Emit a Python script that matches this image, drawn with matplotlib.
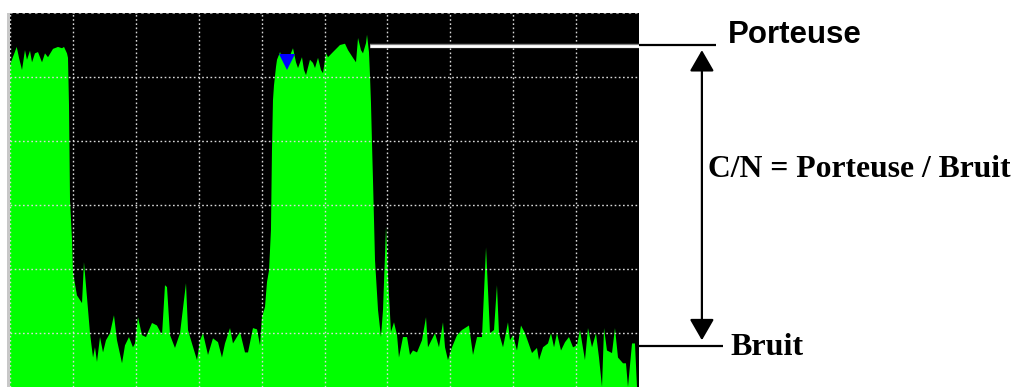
import matplotlib
matplotlib.use("Agg")
import matplotlib.pyplot as plt
from matplotlib.patches import Rectangle

# Spectrum trace: frequency (0-100 across screen) and level in dB (0 = top, 10 dB/div)
freq = [0.0, 1.07, 1.43, 1.91, 2.38, 2.70, 3.18, 3.50, 3.97, 4.45, 5.09, 5.56, 6.04, 6.84,
        7.63, 8.27, 8.59, 9.06, 9.22, 9.38, 9.54, 9.86, 10.02, 10.65, 11.45, 11.76, 12.24,
        12.72, 13.20, 13.51, 13.83, 14.31, 14.79, 15.26, 15.90, 16.53, 17.01, 17.81, 18.28,
        18.92, 19.55, 19.87, 20.35, 20.99, 21.62, 22.58, 23.37, 24.17, 24.64, 24.96, 25.44,
        26.23, 27.03, 27.98, 28.30, 28.93, 29.73, 30.21, 30.68, 31.48, 32.27, 33.07, 33.70,
        34.18, 34.98, 35.45, 36.57, 37.36, 37.84, 38.63, 39.27, 39.75, 40.06, 40.54, 40.86,
        41.18, 41.49, 41.65, 41.81, 41.97, 42.29, 42.45, 42.93, 43.24, 44.04, 44.99, 45.47,
        45.79, 46.42, 46.74, 47.06, 47.69, 48.17, 48.49, 48.97, 49.44, 49.76, 50.24, 50.56,
        51.35, 52.46, 53.26, 53.74, 54.53, 55.01, 55.33, 55.80, 56.12, 56.60, 56.76, 57.07,
        57.23, 57.39, 57.55, 57.71, 57.87, 58.03, 58.51, 58.98, 59.30, 59.78, 60.10, 60.57,
        61.05, 61.53, 61.84, 62.48, 63.12, 63.59, 64.07, 64.71, 65.50, 66.14, 66.45, 67.57,
        68.20, 68.84, 69.16, 69.63, 70.27, 71.07, 71.86, 72.97, 73.61, 74.25, 75.04, 75.68,
        76.31, 76.95, 77.42, 77.74, 78.38, 79.17, 79.49, 79.97, 80.60, 81.24, 81.88, 82.99,
        83.78, 84.10, 84.74, 85.53, 86.01, 86.49, 86.96, 87.60, 88.24, 88.87, 89.51, 90.14,
        90.62, 91.41, 91.89, 92.53, 93.16, 93.64, 94.12, 94.44, 94.91, 95.71, 96.18, 96.66,
        97.46, 97.93, 98.25, 98.89, 99.36, 99.68, 100.0]
level = [-8.1, -5.3, -7.0, -8.9, -5.8, -7.3, -5.9, -7.7, -6.3, -6.1, -7.7, -6.3, -6.9, -5.6,
         -5.3, -5.5, -5.3, -6.3, -7.0, -14.4, -29.2, -35.5, -40.6, -44.1, -45.3, -38.9, -44.4,
         -50.0, -53.8, -52.2, -54.5, -50.6, -53.0, -51.1, -50.0, -47.2, -51.1, -54.7, -51.9,
         -50.6, -52.2, -51.6, -47.5, -50.3, -50.6, -48.4, -48.8, -50.3, -42.5, -42.8, -50.3,
         -52.3, -50.0, -42.2, -49.5, -51.6, -54.2, -51.1, -50.0, -53.4, -50.8, -51.4, -53.8,
         -51.6, -49.2, -51.6, -49.8, -53.0, -53.0, -49.2, -49.4, -51.9, -47.5, -45.9, -42.0,
         -40.2, -33.9, -21.4, -13.6, -11.3, -8.4, -7.3, -6.1, -6.9, -7.8, -5.5, -7.7,
         -8.6, -6.9, -8.9, -9.7, -7.3, -7.8, -8.6, -7.0, -8.9, -9.4, -6.3, -6.9,
         -6.1, -5.0, -4.8, -5.8, -7.0, -7.7, -3.9, -5.8, -6.3, -4.7, -3.4, -6.1,
         -9.7, -14.1, -20.3, -26.1, -32.3, -38.6, -46.4, -50.6, -46.4, -33.4, -41.3, -49.8,
         -48.3, -50.3, -53.8, -50.6, -50.6, -53.4, -52.7, -53.0, -51.1, -47.5, -52.2, -50.0,
         -52.2, -48.3, -52.2, -54.2, -52.2, -50.3, -49.5, -48.8, -53.4, -50.6, -50.6, -36.6,
         -50.0, -49.5, -42.5, -50.0, -52.2, -48.3, -51.1, -50.3, -52.7, -48.8, -50.0, -53.1,
         -52.3, -54.2, -52.2, -51.6, -50.0, -52.2, -50.0, -52.7, -51.4, -50.6, -52.2, -51.9,
         -49.5, -54.2, -49.2, -52.2, -50.0, -53.8, -58.4, -49.2, -52.7, -53.1, -49.2, -53.8,
         -54.7, -54.7, -58.4, -51.6, -51.6, -58.4, -58.4]

marker_freq = 44.0
marker_level = -7.6
carrier_level = -5.1
noise_level = -52.0
carrier_start = 57.2

label_carrier = "Porteuse"
label_noise = "Bruit"
label_ratio = "C/N = Porteuse / Bruit"

W, H = 1019, 387
fig = plt.figure(figsize=(W / 100, H / 100), dpi=100)
fig.patch.set_facecolor("white")
ax = fig.add_axes([10 / W, 0, 629 / W, 374 / H])
ax.set_facecolor("black")
ax.set_xlim(0, 100)
ax.set_ylim(-58.4, 0)

ax.fill_between(freq, level, -70, color="#00ff00", linewidth=0, zorder=2)
ax.plot(marker_freq, marker_level, marker="v", color="#0000ff", markersize=11,
        markeredgewidth=0, zorder=4, linestyle="none")

for gx in range(0, 100, 10):
    ax.axvline(gx, color="#d8d8d8", linestyle=(0, (1.2, 1.8)), linewidth=1.0, zorder=3)
for gy in range(-50, 1, 10):
    ax.axhline(gy, color="#d8d8d8" if gy < 0 else "#909090",
               linestyle=(0, (1.2, 1.8)), linewidth=1.0 if gy < 0 else 1.5, zorder=3)

for s in ax.spines.values():
    s.set_visible(False)
ax.set_xticks([])
ax.set_yticks([])

fig.patches.append(Rectangle((6.5 / W, 0), 3 / W, 374 / H, transform=fig.transFigure,
                             facecolor="#c8c8c8", edgecolor="none"))

# carrier reference line (white on screen, black outside)
ax.plot([carrier_start, 100], [carrier_level, carrier_level], color="#808080",
        linewidth=3.2, zorder=5, solid_capstyle="butt")
ax.plot([carrier_start, 100], [carrier_level, carrier_level], color="white",
        linewidth=2.0, zorder=6, solid_capstyle="butt")
ax.plot([100, 112.2], [carrier_level + 0.1, carrier_level + 0.1], color="black",
        linewidth=1.6, clip_on=False, solid_capstyle="butt")
ax.plot([100, 113.4], [noise_level, noise_level], color="black",
        linewidth=1.6, clip_on=False, solid_capstyle="butt")

ax.annotate("", xy=(110.0, -5.8), xytext=(110.0, -51.1), xycoords="data",
            annotation_clip=False,
            arrowprops=dict(arrowstyle="<|-|>,head_length=1.3,head_width=0.75",
                            color="black", linewidth=1.6, shrinkA=0, shrinkB=0))

ax.text(114.1, -4.7, label_carrier, fontsize=22.5, fontweight="bold",
        family="Liberation Sans", va="baseline", ha="left", clip_on=False)
ax.text(111.0, -25.6, label_ratio, fontsize=22.8, fontweight="bold",
        family="Liberation Serif", va="baseline", ha="left", clip_on=False)
ax.text(114.5, -53.4, label_noise, fontsize=23, fontweight="bold",
        family="Liberation Serif", va="baseline", ha="left", clip_on=False)

fig.savefig("out.png", dpi=100, facecolor="white")
